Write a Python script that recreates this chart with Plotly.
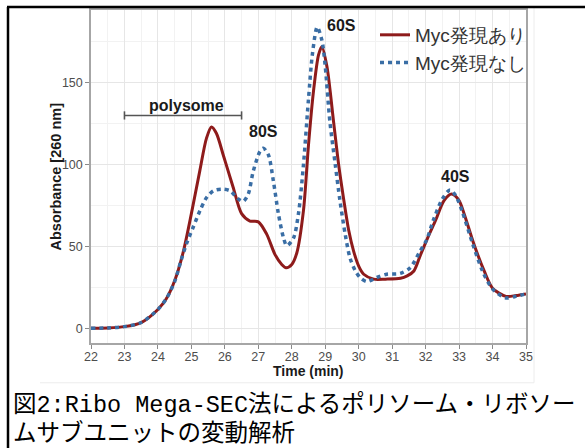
import plotly.graph_objects as go

# ---- data ----
red_name = "Myc発現あり"
blue_name = "Myc発現なし"

red_t = [22.0, 22.5, 23.0, 23.5, 24.0, 24.25, 24.5, 24.75, 25.0, 25.25, 25.45, 25.6, 25.75,
         25.95, 26.1, 26.25, 26.5, 26.75, 27.0, 27.25, 27.5, 27.7, 27.83, 28.0, 28.15, 28.35,
         28.5, 28.65, 28.8, 28.9, 29.05, 29.25, 29.4, 29.55, 29.7, 29.85, 30.0, 30.15, 30.45,
         30.8, 31.25, 31.45, 31.65, 31.85, 32.1, 32.3, 32.55, 32.78, 33.0, 33.15, 33.45, 33.75,
         34.0, 34.4, 34.7, 35.0]
red_v = [0, 0.2, 1, 3.5, 11.5, 18, 29, 46, 70, 96, 116, 123, 119,
         106, 96, 86, 70, 65.5, 65, 57.5, 45, 39, 37, 39, 46, 72,
         112, 145, 167, 172, 160, 126, 100, 79, 60, 47, 38, 33, 30,
         30, 30.5, 32, 35, 45, 57, 66, 78, 82, 78, 70, 51, 35,
         24.5, 19.5, 20, 21]

blue_t = [22.0, 22.5, 23.0, 23.5, 24.0, 24.25, 24.5, 24.7, 24.86, 25.06, 25.26, 25.46, 25.66,
          25.9, 26.15, 26.4, 26.55, 26.7, 26.85, 27.05, 27.15, 27.3, 27.45, 27.6, 27.75, 27.85,
          28.05, 28.2, 28.35, 28.5, 28.62, 28.76, 28.9, 29.0, 29.14, 29.3, 29.44, 29.6, 29.74,
          29.9, 30.04, 30.24, 30.54, 30.84, 31.24, 31.54, 31.83, 32.03, 32.23, 32.5, 32.73,
          32.9, 33.1, 33.4, 33.7, 34.0, 34.4, 34.7, 35.0]
blue_v = [0, 0.2, 1, 3.5, 11.5, 18, 28.5, 42, 52, 62, 72, 80, 84,
          85, 84, 79, 77.5, 82, 96, 108, 110, 106, 90, 70, 55.5, 50.5,
          55, 70, 100, 140, 168, 184, 176, 160, 126, 100, 78, 57, 43,
          35, 31, 28.5, 31, 33, 33.5, 37, 47, 54, 66, 79, 84.5,
          81, 71, 52, 35, 24, 18.5, 19.5, 21]

peak_labels = ["60S", "80S", "40S"]
peak_label_t = [29.5, 27.15, 32.88]
peak_label_v = [185, 120, 93]

polysome_label = "polysome"
polysome_range = [23.0, 26.5]
polysome_level = 130

x_ticks = list(range(22, 36))
y_ticks = [0, 50, 100, 150]

x_title = "Time (min)"
y_title = "Absorbance [260 nm]"
caption_lines = ["図2:Ribo Mega-SEC法によるポリソーム・リボソー", "ムサブユニットの変動解析"]

# ---- figure ----
W, H = 585, 448
L, R, T, B = 91, 59, 8, 105
PW, PH = W - L - R, H - T - B


def px_x(px):
    return (px - L) / PW


def px_y(py):
    return (H - B - py) / PH


RED = "#8e1b1b"
BLUE = "#3a6ea5"
SANS = "Liberation Sans, Arial, sans-serif"

fig = go.Figure()
fig.add_trace(go.Scatter(x=red_t, y=red_v, mode="lines", name=red_name,
                         line=dict(color=RED, width=3, shape="spline", smoothing=0.8)))
fig.add_trace(go.Scatter(x=blue_t, y=blue_v, mode="lines", name=blue_name,
                         line=dict(color=BLUE, width=3.5, shape="spline", smoothing=0.8,
                                   dash="4px,4px")))

annotations = []
for lab, t, v in zip(peak_labels, peak_label_t, peak_label_v):
    annotations.append(dict(x=t, y=v, xref="x", yref="y", text=lab, showarrow=False,
                            xanchor="center", yanchor="middle",
                            font=dict(family=SANS, size=16, color="#1a1a1a", weight="bold")))
annotations.append(dict(x=sum(polysome_range) / 2 + 0.1, y=polysome_level + 6, xref="x", yref="y",
                        text=polysome_label, showarrow=False, xanchor="center", yanchor="middle",
                        font=dict(family=SANS, size=16, color="#1a1a1a", weight="bold")))
annotations.append(dict(x=0.5, y=px_y(371), xref="paper", yref="paper", text=x_title,
                        showarrow=False, xanchor="center", yanchor="middle",
                        font=dict(family=SANS, size=14, color="#1a1a1a", weight="bold")))
annotations.append(dict(x=px_x(55), y=0.5, xref="paper", yref="paper", text=y_title,
                        textangle=-90, showarrow=False, xanchor="center", yanchor="middle",
                        font=dict(family=SANS, size=14.5, color="#1a1a1a", weight="bold")))
CAP_FONT = "Liberation Mono, Noto Sans CJK JP, monospace"
for i, line in enumerate(caption_lines):
    annotations.append(dict(x=px_x(11), y=px_y(405 + 30 * i), xref="paper", yref="paper",
                            xanchor="left", yanchor="middle", text=line, showarrow=False,
                            font=dict(family=CAP_FONT, size=23.5, color="#000000")))

shapes = []
# polysome bracket
shapes.append(dict(type="line", xref="x", yref="y", x0=polysome_range[0], x1=polysome_range[1],
                   y0=polysome_level, y1=polysome_level, line=dict(color="#555555", width=1.6)))
for xe in polysome_range:
    shapes.append(dict(type="line", xref="x", yref="y", x0=xe, x1=xe,
                       y0=polysome_level - 2.5, y1=polysome_level + 2.5,
                       line=dict(color="#555555", width=1.6)))
# faint outline of the pasted chart image
shapes.append(dict(type="line", xref="paper", yref="paper", x0=px_x(534), x1=px_x(534),
                   y0=px_y(6), y1=px_y(383), line=dict(color="#ececec", width=1)))
shapes.append(dict(type="line", xref="paper", yref="paper", x0=px_x(40), x1=px_x(534),
                   y0=px_y(383), y1=px_y(383), line=dict(color="#ececec", width=1)))
# black frame (left and top)
shapes.append(dict(type="line", xref="paper", yref="paper", x0=px_x(8), x1=px_x(8),
                   y0=px_y(5), y1=px_y(449), line=dict(color="#000000", width=2.5)))
shapes.append(dict(type="line", xref="paper", yref="paper", x0=px_x(7), x1=px_x(586),
                   y0=px_y(5), y1=px_y(5), line=dict(color="#000000", width=2.5)))

axis_common = dict(showline=True, linecolor="#a6a6a6", linewidth=1.5, mirror=True,
                   ticks="outside", ticklen=4, tickcolor="#8a8a8a", tickwidth=1,
                   showgrid=True, gridcolor="#e6e6e6", gridwidth=1, zeroline=False,
                   tickfont=dict(family=SANS, size=12.5, color="#4d4d4d"))

fig.update_layout(
    width=W, height=H,
    margin=dict(l=L, r=R, t=T, b=B, pad=0),
    paper_bgcolor="white", plot_bgcolor="white",
    showlegend=True,
    legend=dict(x=px_x(375), y=px_y(14), xanchor="left", yanchor="top",
                bgcolor="rgba(0,0,0,0)", borderwidth=0,
                font=dict(family=SANS, size=19, color="#333333")),
    xaxis=dict(range=[22, 35], tickvals=x_ticks, ticktext=[str(v) for v in x_ticks],
               ticklabelstandoff=-3,
               minor=dict(dtick=0.5, tick0=22, showgrid=True, gridcolor="#f2f2f2", ticks=""),
               **axis_common),
    yaxis=dict(range=[-9, 194.4], tickvals=y_ticks, ticktext=[str(v) for v in y_ticks],
               minor=dict(dtick=25, tick0=0, showgrid=True, gridcolor="#f2f2f2", ticks=""),
               **axis_common),
    annotations=annotations,
    shapes=shapes,
)

fig.write_html("out.html", config={"displayModeBar": False},
               post_script="document.body.style.margin='0px';")
